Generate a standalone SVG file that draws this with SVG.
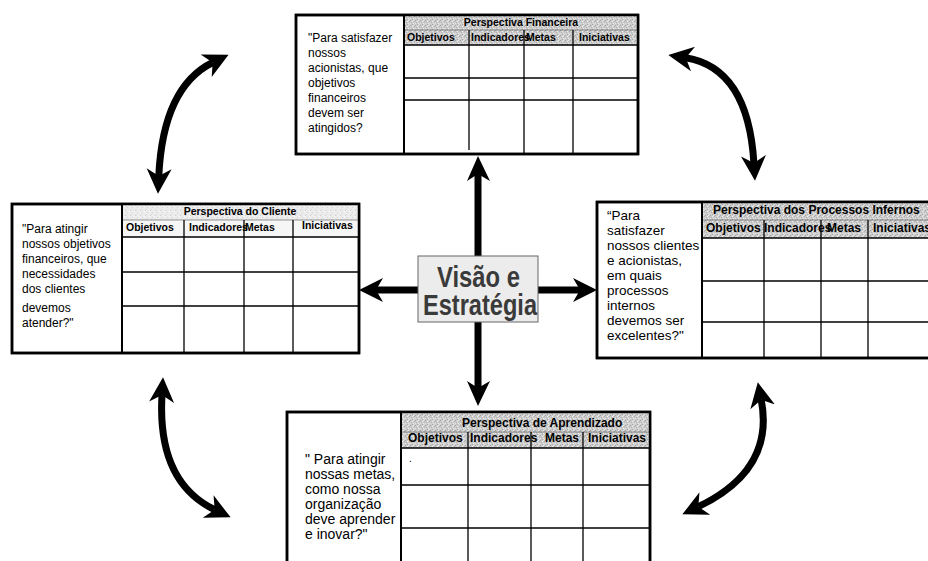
<svg xmlns="http://www.w3.org/2000/svg" width="928" height="561" viewBox="0 0 928 561">
  <defs>
    <!-- stippled grey used in table headers -->
    <pattern id="stip" width="5" height="5" patternUnits="userSpaceOnUse">
      <rect width="5" height="5" fill="#cbcbcb"/>
      <rect x="0" y="0" width="1" height="1" fill="#a4a4a4"/>
      <rect x="3" y="0" width="1" height="1" fill="#e9e9e9"/>
      <rect x="2" y="1" width="1" height="1" fill="#f0f0f0"/>
      <rect x="4" y="1" width="1" height="1" fill="#b0b0b0"/>
      <rect x="1" y="2" width="1" height="1" fill="#b5b5b5"/>
      <rect x="3" y="3" width="1" height="1" fill="#ececec"/>
      <rect x="0" y="3" width="1" height="1" fill="#e2e2e2"/>
      <rect x="2" y="4" width="1" height="1" fill="#aaaaaa"/>
      <rect x="4" y="4" width="1" height="1" fill="#dedede"/>
    </pattern>
    <pattern id="stipLight" width="5" height="5" patternUnits="userSpaceOnUse">
      <rect width="5" height="5" fill="#ececec"/>
      <rect x="0" y="0" width="1" height="1" fill="#cfcfcf"/>
      <rect x="2" y="2" width="1" height="1" fill="#d6d6d6"/>
      <rect x="4" y="1" width="1" height="1" fill="#fafafa"/>
      <rect x="1" y="4" width="1" height="1" fill="#dadada"/>
    </pattern>
    <marker id="head" markerUnits="userSpaceOnUse" markerWidth="26" markerHeight="28" viewBox="0 -13 25 26" refX="7" refY="0" orient="auto-start-reverse">
      <path d="M0,-12 L24,0 L0,12 L7,0 Z" fill="#000"/>
    </marker>
  </defs>
  <style>
    .box { fill: #fff; stroke: #000; stroke-width: 2.5; }
    .div { stroke: #000; stroke-width: 2; fill: none; }
    .grid { stroke: #000; stroke-width: 1.3; fill: none; }
    .thin { stroke: #555; stroke-width: 0.6; fill: none; }
    .q { font-family: "Liberation Sans", Arial, sans-serif; fill: #000; }
    .hd { font-family: "Liberation Sans", Arial, sans-serif; font-weight: bold; fill: #000; }
    .arc { fill: none; stroke: #000; stroke-width: 7; }
    .ray { fill: none; stroke: #000; stroke-width: 7; stroke-linecap: round; }
  </style>
  <rect width="928" height="561" fill="#fff"/>

  <!-- connectors -->
  <g id="connectors">
    <!-- straight arrows from the centre -->
    <path class="ray" d="M478,257 V174"/>
    <path d="M478,156 L490,181 L478,174 L467,181 Z" fill="#000"/>
    <path class="ray" d="M478,322 V388"/>
    <path d="M478,406 L490,381 L478,388 L467,381 Z" fill="#000"/>
    <path class="ray" d="M538,290 H580"/>
    <path d="M597,290 L573,278 L580,290 L573,302 Z" fill="#000"/>
    <path class="ray" d="M418,290 H376"/>
    <path d="M359,290 L383,278 L376,290 L383,302 Z" fill="#000"/>
    <!-- curved double arrows between perspectives -->
    <path class="arc" d="M212.7,62.5 Q163,87 158.8,176" marker-start="url(#head)" marker-end="url(#head)"/>
    <path class="arc" d="M685.8,57.8 Q748,68 753.9,163" marker-start="url(#head)" marker-end="url(#head)"/>
    <path class="arc" d="M162,395 Q157,482 214.7,509.7" marker-start="url(#head)" marker-end="url(#head)"/>
    <path class="arc" d="M761.2,399.7 Q775,470 698.3,506.7" marker-start="url(#head)" marker-end="url(#head)"/>
  </g>

  <!-- centre node -->
  <g id="visao">
    <rect x="418" y="256" width="120" height="66" fill="#ececec" stroke="#666" stroke-width="1"/>
    <text class="hd" x="478.5" y="287" font-size="29" text-anchor="middle" textLength="83" lengthAdjust="spacingAndGlyphs" style="fill:#3a3a3a">Visão e</text>
    <text class="hd" x="480" y="315" font-size="29" text-anchor="middle" textLength="114" lengthAdjust="spacingAndGlyphs" style="fill:#3a3a3a">Estratégia</text>
  </g>

  <!-- financial perspective -->
  <g id="financeira">
    <rect class="box" x="296" y="15" width="342" height="139"/>
    <rect x="404" y="15" width="234" height="30" fill="url(#stip)"/>
    <line class="thin" x1="404" y1="30" x2="638" y2="30"/>
    <line class="grid" x1="404" y1="45" x2="638" y2="45"/>
    <line class="grid" x1="404" y1="78" x2="638" y2="78"/>
    <line class="grid" x1="404" y1="100" x2="638" y2="100"/>
    <line class="grid" x1="469" y1="30" x2="469" y2="150"/>
    <line class="grid" x1="524" y1="30" x2="524" y2="154"/>
    <line class="grid" x1="573" y1="30" x2="573" y2="154"/>
    <line class="div" x1="404" y1="15" x2="404" y2="154"/>
    <rect class="box" x="296" y="15" width="342" height="139" style="fill:none"/>
    <text class="hd" x="521" y="26" font-size="10.5" text-anchor="middle">Perspectiva Financeira</text>
    <g class="hd" font-size="10.5">
      <text x="407" y="41">Objetivos</text>
      <text x="471" y="41">Indicadores</text>
      <text x="526" y="41">Metas</text>
      <text x="579" y="41">Iniciativas</text>
    </g>
    <g class="q" font-size="12">
      <text x="308" y="42">"Para satisfazer</text>
      <text x="308" y="57">nossos</text>
      <text x="308" y="72">acionistas, que</text>
      <text x="308" y="87">objetivos</text>
      <text x="308" y="102">financeiros</text>
      <text x="308" y="117">devem ser</text>
      <text x="308" y="132">atingidos?</text>
    </g>
  </g>

  <!-- customer perspective -->
  <g id="cliente">
    <rect class="box" x="12" y="204" width="347" height="149"/>
    <rect x="122" y="204" width="237" height="16" fill="url(#stipLight)"/>
    <rect x="122" y="220" width="237" height="17" fill="#f6f6f6"/>
    <line class="thin" x1="122" y1="220" x2="359" y2="220"/>
    <line class="grid" x1="122" y1="237" x2="359" y2="237"/>
    <line class="grid" x1="122" y1="272" x2="359" y2="272"/>
    <line class="grid" x1="122" y1="306" x2="359" y2="306"/>
    <line class="grid" x1="184" y1="220" x2="184" y2="353"/>
    <line class="grid" x1="244" y1="220" x2="244" y2="353"/>
    <line class="grid" x1="293" y1="220" x2="293" y2="353"/>
    <line class="div" x1="122" y1="204" x2="122" y2="353"/>
    <rect class="box" x="12" y="204" width="347" height="149" style="fill:none"/>
    <text class="hd" x="240" y="215" font-size="10.5" text-anchor="middle">Perspectiva do Cliente</text>
    <g class="hd" font-size="10.5">
      <text x="126" y="231">Objetivos</text>
      <text x="189" y="231">Indicadores</text>
      <text x="245" y="231">Metas</text>
      <text x="302" y="229">Iniciativas</text>
    </g>
    <g class="q" font-size="12">
      <text x="22" y="233">"Para atingir</text>
      <text x="22" y="248">nossos objetivos</text>
      <text x="22" y="263">financeiros, que</text>
      <text x="22" y="278">necessidades</text>
      <text x="22" y="293">dos clientes</text>
      <text x="22" y="312">devemos</text>
      <text x="22" y="327">atender?"</text>
    </g>
  </g>

  <!-- internal process perspective -->
  <g id="processos">
    <rect class="box" x="597" y="202" width="345" height="156"/>
    <rect x="702" y="202" width="240" height="36" fill="url(#stip)"/>
    <line class="thin" x1="702" y1="220" x2="942" y2="220"/>
    <line class="grid" x1="702" y1="238" x2="942" y2="238"/>
    <line class="grid" x1="702" y1="281" x2="942" y2="281"/>
    <line class="grid" x1="702" y1="322" x2="942" y2="322"/>
    <line class="grid" x1="764" y1="220" x2="764" y2="358"/>
    <line class="grid" x1="821" y1="220" x2="821" y2="358"/>
    <line class="grid" x1="868" y1="220" x2="868" y2="358"/>
    <line class="div" x1="702" y1="202" x2="702" y2="358"/>
    <rect class="box" x="597" y="202" width="345" height="156" style="fill:none"/>
    <text class="hd" x="713" y="214" font-size="12">Perspectiva dos Processos Infernos</text>
    <g class="hd" font-size="12">
      <text x="706" y="232">Objetivos</text>
      <text x="764" y="232">Indicadores</text>
      <text x="827" y="232">Metas</text>
      <text x="873" y="232">Iniciativas</text>
    </g>
    <g class="q" font-size="13.5">
      <text x="607" y="220">“Para</text>
      <text x="607" y="235">satisfazer</text>
      <text x="607" y="250">nossos clientes</text>
      <text x="607" y="265">e acionistas,</text>
      <text x="607" y="280">em quais</text>
      <text x="607" y="295">processos</text>
      <text x="607" y="310">internos</text>
      <text x="607" y="325">devemos ser</text>
      <text x="607" y="340">excelentes?"</text>
    </g>
  </g>

  <!-- learning perspective -->
  <g id="aprendizado">
    <rect class="box" x="287" y="412" width="363" height="160"/>
    <rect x="401" y="412" width="249" height="36" fill="url(#stip)"/>
    <line class="thin" x1="401" y1="432" x2="650" y2="432"/>
    <line class="grid" x1="401" y1="448" x2="650" y2="448"/>
    <line class="grid" x1="401" y1="485" x2="650" y2="485"/>
    <line class="grid" x1="401" y1="528" x2="650" y2="528"/>
    <line class="grid" x1="468" y1="432" x2="468" y2="572"/>
    <line class="grid" x1="531" y1="432" x2="531" y2="572"/>
    <line class="grid" x1="583" y1="432" x2="583" y2="572"/>
    <line class="div" x1="401" y1="412" x2="401" y2="572"/>
    <rect class="box" x="287" y="412" width="363" height="160" style="fill:none"/>
    <text class="hd" x="462" y="427" font-size="12">Perspectiva de Aprendizado</text>
    <g class="hd" font-size="12">
      <text x="408" y="442">Objetivos</text>
      <text x="470" y="442">Indicadores</text>
      <text x="545" y="442">Metas</text>
      <text x="588" y="442">Iniciativas</text>
    </g>
    <text class="q" x="409" y="462" font-size="10">.</text>
    <g class="q" font-size="14">
      <text x="305" y="464">" Para atingir</text>
      <text x="305" y="479">nossas metas,</text>
      <text x="305" y="494">como nossa</text>
      <text x="305" y="509">organização</text>
      <text x="305" y="524">deve aprender</text>
      <text x="305" y="539">e inovar?"</text>
    </g>
  </g>
</svg>
